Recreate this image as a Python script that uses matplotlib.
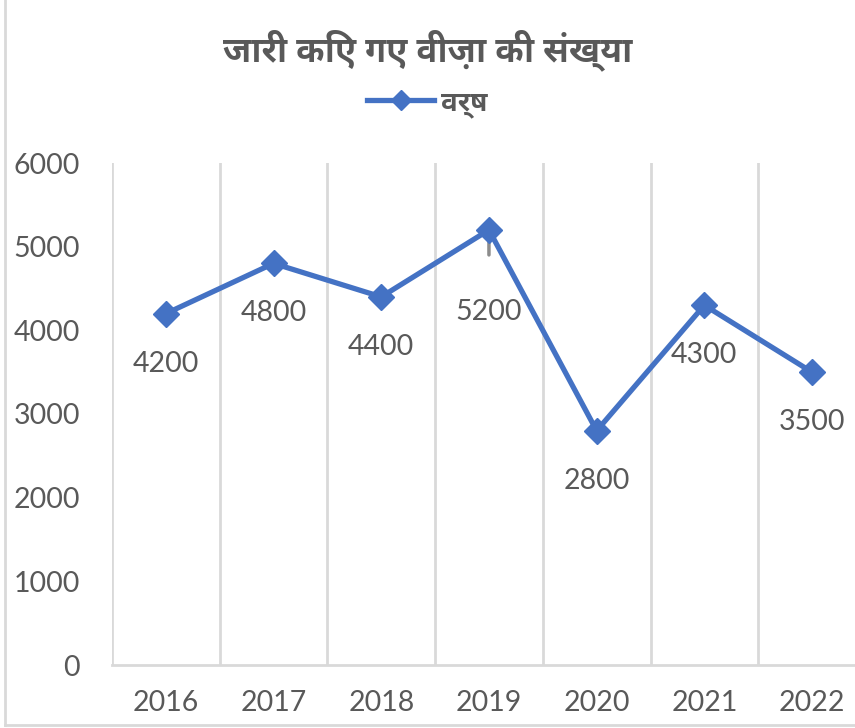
import matplotlib
matplotlib.use("Agg")
import matplotlib.pyplot as plt
from matplotlib.lines import Line2D

years = ["2016", "2017", "2018", "2019", "2020", "2021", "2022"]
visas = [4200, 4800, 4400, 5200, 2800, 4300, 3500]
# label offsets below each point, in pixels (5200 sits further down with a leader line)
label_drop = [50, 50, 50, 82, 50, 50, 50]

title = "जारी किए गए वीज़ा की संख्या"
series_name = "वर्ष"

hindi = ["Noto Sans Devanagari UI", "DejaVu Sans"]
num_font = ["Lato", "DejaVu Sans"]
grey = "#595959"
grid_c = "#d9d9d9"
blue = "#4472C4"
fs = 20.5

W, H = 855, 728
fig = plt.figure(figsize=(W / 100, H / 100), dpi=100)

# plot area: left edge x=112, y=0 at 665px, 6000 at 163px, 7 slots of ~107.7px
slot = 107.7
ax = fig.add_axes([112 / W, (H - 665) / H, 7 * slot / W, (665 - 163) / H])
xs = list(range(len(years)))
ax.plot(xs, visas, color=blue, lw=3.8, marker="D", ms=13, mfc=blue, mec=blue,
        solid_joinstyle="round", zorder=3)

ax.set_xlim(-0.5, len(years) - 0.5)
ax.set_ylim(0, 6000)
ax.set_yticks(range(0, 6001, 1000))
ax.set_yticklabels([str(v) for v in range(0, 6001, 1000)], fontfamily=num_font,
                   fontsize=fs, color=grey)
ax.set_xticks(xs)
ax.set_xticklabels(years, fontfamily=num_font, fontsize=fs, color=grey)
ax.tick_params(axis="both", length=0)
ax.tick_params(axis="y", pad=23)
ax.tick_params(axis="x", pad=18)

for b in [i - 0.5 for i in range(len(years) + 1)]:
    ax.axvline(b, color=grid_c, lw=2, zorder=1)
for s in ["top", "right", "left"]:
    ax.spines[s].set_visible(False)
ax.spines["bottom"].set_color(grid_c)
ax.spines["bottom"].set_linewidth(2)

for x, v, d in zip(xs, visas, label_drop):
    ax.annotate(str(v), (x, v), xytext=(0, -d * 0.72), textcoords="offset points",
                ha="center", va="center", fontfamily=num_font, fontsize=fs, color=grey)
    if d > 60:
        # short leader tick poking out below the marker
        ax.annotate("", (x, v), xytext=(0, -18), textcoords="offset points",
                    arrowprops=dict(arrowstyle="-", color="#8c8c8c", lw=2.5,
                                    shrinkA=0, shrinkB=0), zorder=2)

fig.text(0.5, (H - 50) / H, title, ha="center", va="center", fontfamily=hindi,
         fontsize=25, fontweight="bold", color=grey)

handle = Line2D([], [], color=blue, lw=3.8, marker="D", ms=10)
fig.legend([handle], [series_name], loc="center", bbox_to_anchor=(0.5, (H - 103) / H),
           frameon=False, prop=dict(family=hindi, size=20, weight="bold"),
           labelcolor=grey, handlelength=2.4, handletextpad=0.25)

# chart-area border (left and bottom visible in the crop)
fig.add_artist(Line2D([5 / W, 5 / W], [3 / H, 1], color=grid_c, lw=2,
                      transform=fig.transFigure))
fig.add_artist(Line2D([5 / W, 1], [3 / H, 3 / H], color=grid_c, lw=2,
                      transform=fig.transFigure))

fig.savefig("out.png", dpi=100)
